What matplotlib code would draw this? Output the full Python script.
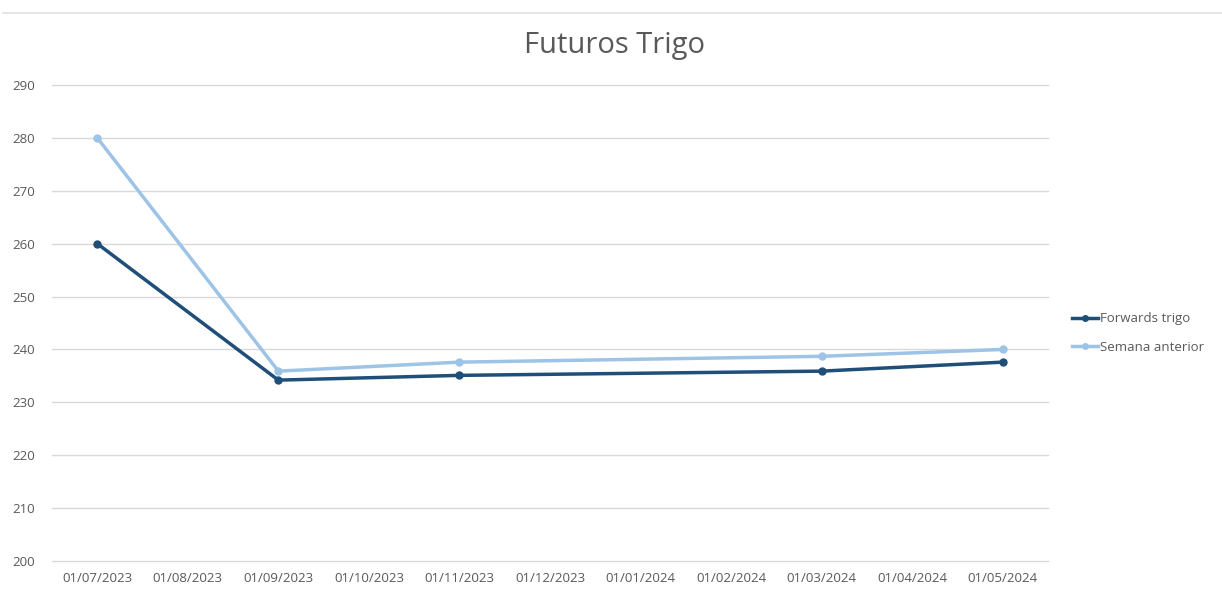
import matplotlib
matplotlib.use("Agg")
from matplotlib import pyplot as plt
from matplotlib.lines import Line2D

# month labels on the axis (Excel date axis, monthly base unit)
months = ["01/07/2023", "01/08/2023", "01/09/2023", "01/10/2023", "01/11/2023",
          "01/12/2023", "01/01/2024", "01/02/2024", "01/03/2024", "01/04/2024",
          "01/05/2024"]

# dates with data
dates = ["01/07/2023", "01/09/2023", "01/11/2023", "01/03/2024", "01/05/2024"]
forwards = [260, 234.2, 235.1, 235.9, 237.6]
semana = [280, 235.9, 237.6, 238.7, 240]

plt.rcParams['font.family'] = ['Open Sans', 'DejaVu Sans']

fig = plt.figure(figsize=(12.22, 5.9), dpi=100)
ax = fig.add_axes([52/1222, 1 - 561/590, (1048 - 52)/1222, (561 - 85)/590])

x = [months.index(d) for d in dates]
ax.plot(x, forwards, color="#1F4E79", lw=2.5, marker="o", ms=5, label="Forwards trigo", zorder=3)
ax.plot(x, semana, color="#9DC3E6", lw=2.5, marker="o", ms=5, label="Semana anterior", zorder=2)

ax.set_xlim(-0.5, len(months) - 0.5)
ax.set_ylim(200, 290)
ax.set_yticks(range(200, 291, 10))
ax.set_xticks(range(len(months)))
ax.set_xticklabels(months)
ax.tick_params(axis="both", length=0, labelsize=9.5, labelcolor="#595959")
ax.tick_params(axis="x", pad=8)
ax.tick_params(axis="y", pad=12)
ax.grid(axis="y", color="#d9d9d9", lw=1, clip_on=False)
for gl in ax.get_ygridlines():
    gl.set_clip_on(False)
ax.set_axisbelow(True)
for s in ax.spines.values():
    s.set_visible(False)

fig.text(614/1222, 1 - 45/590, "Futuros Trigo", ha="center", va="center",
         fontsize=21, color="#595959")

ax.legend(loc="center left", bbox_to_anchor=(1.012, 0.479), frameon=False,
          fontsize=9.5, labelcolor="#595959", handlelength=2.0, handletextpad=0.1,
          labelspacing=1.15, markerscale=0.8)

# thin border line on top
fig.add_artist(Line2D([3/1222, 1], [1 - 13/590, 1 - 13/590], color="#e0e0e0", lw=1.2))

fig.savefig("out.png", dpi=100)
